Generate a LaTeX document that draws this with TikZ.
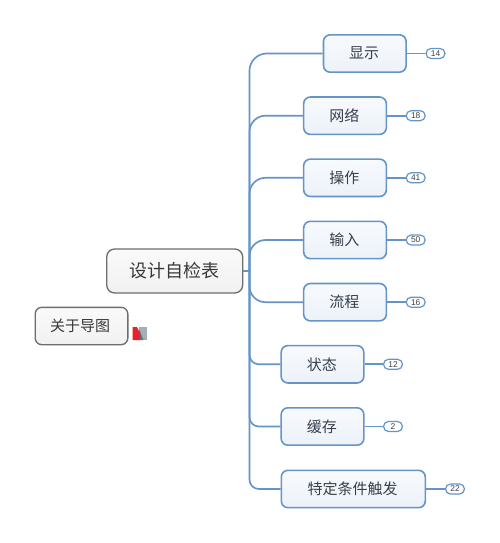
\documentclass[tikz,border=0pt]{standalone}
\usepackage{fontspec}
\setmainfont{Liberation Sans}
\newfontfamily\cjk{Noto Sans CJK SC}
\definecolor{bluelin}{HTML}{6595C8}
\definecolor{txt}{HTML}{36404C}
\definecolor{graylin}{HTML}{6E6E6E}
\definecolor{boxtop}{HTML}{F8FAFD}
\definecolor{boxbot}{HTML}{ECF2F9}
\definecolor{roottop}{HTML}{FAFAFA}
\definecolor{rootbot}{HTML}{F1F1F1}
\definecolor{iconred}{HTML}{E6212B}
\definecolor{icongray}{HTML}{A3AEB6}
\definecolor{icondark}{HTML}{5F7688}
\tikzset{
 branchbox/.style={draw=bluelin,line width=1.2pt,rounded corners=5pt,top color=boxtop,bottom color=boxbot,
   minimum height=28pt,inner sep=0pt,text=txt,font=\cjk\fontsize{11.25pt}{13pt}\selectfont,
   execute at begin node=\kern-1pt},
 rootbox/.style={draw=graylin,line width=1pt,rounded corners=6pt,top color=roottop,bottom color=rootbot,
   inner sep=0pt,text=black!78,font=\cjk\fontsize{13.5pt}{16pt}\selectfont},
 badge/.style={draw=bluelin,line width=0.9pt,rounded corners=3.7pt,fill=white,minimum width=14.2pt,minimum height=7.5pt,
   inner sep=0pt,text=black!75,font=\fontsize{6.3pt}{6.5pt}\selectfont},
 conn/.style={draw=bluelin,line width=1.25pt},
}
\begin{document}
\begin{tikzpicture}[x=0.75pt,y=-0.75pt]
\useasboundingbox (0,0) rectangle (500,543);
\fill[white] (0,0) rectangle (500,543);
% root and floating
\node[rootbox,minimum width=102pt,minimum height=33pt] (root) at (174.7,271) {设计自检表};
\node[rootbox,minimum width=69.5pt,minimum height=28pt,rounded corners=5pt,font=\cjk\fontsize{11.25pt}{13pt}\selectfont,execute at begin node=\kern-2.2pt] (about) at (81.5,326) {关于导图};
% branches
\node[branchbox,minimum width=62pt] (a) at (364.8,53.5) {显示};
\node[branchbox,minimum width=62pt] (b) at (345,115.7) {网络};
\node[branchbox,minimum width=62pt] (c) at (345,177.8) {操作};
\node[branchbox,minimum width=62pt] (d) at (345,240) {输入};
\node[branchbox,minimum width=62pt] (e) at (345,302.2) {流程};
\node[branchbox,minimum width=62pt] (f) at (322.5,364.3) {状态};
\node[branchbox,minimum width=62pt] (g) at (322.5,426.5) {缓存};
\node[branchbox,minimum width=108pt] (h) at (353.3,489) {特定条件触发};
% badges
\node[badge] (ba) at (435.5,53.5) {14};
\node[badge] (bb) at (415.7,115.7) {18};
\node[badge] (bc) at (415.7,177.8) {41};
\node[badge] (bd) at (415.7,240) {50};
\node[badge] (be) at (415.7,302.2) {16};
\node[badge] (bf) at (393,364.3) {12};
\node[badge] (bg) at (393,426.5) {2};
\node[badge] (bh) at (455,489) {22};
% connectors
\coordinate (tr) at (249.5,271);
\draw[conn] (root.east) -- (tr);
\draw[conn,rounded corners=13pt] (tr) |- (a.west);
\draw[conn,rounded corners=12pt] (tr) |- (b.west);
\draw[conn,rounded corners=12pt] (tr) |- (c.west);
\draw[conn,rounded corners=12pt] (tr) |- (d.west);
\draw[conn,rounded corners=12pt] (tr) |- (e.west);
\draw[conn,rounded corners=7pt] (tr) |- (f.west);
\draw[conn,rounded corners=7pt] (tr) |- (g.west);
\draw[conn,rounded corners=7pt] (tr) |- (h.west);
\foreach \n in {a,b,c,d,e,f,g,h}{\draw[conn] (\n.east) -- (b\n.west);}
% icon
\fill[icongray] (139,327) -- (147,327) -- (147,340) -- (139,340) -- cycle;
\fill[icondark] (139,329) -- (143.5,340) -- (139,340) -- cycle;
\fill[iconred] (132.7,327) -- (137,327) -- (140,333) -- (140,340) -- (132.7,340) -- cycle;
\end{tikzpicture}
\end{document}
